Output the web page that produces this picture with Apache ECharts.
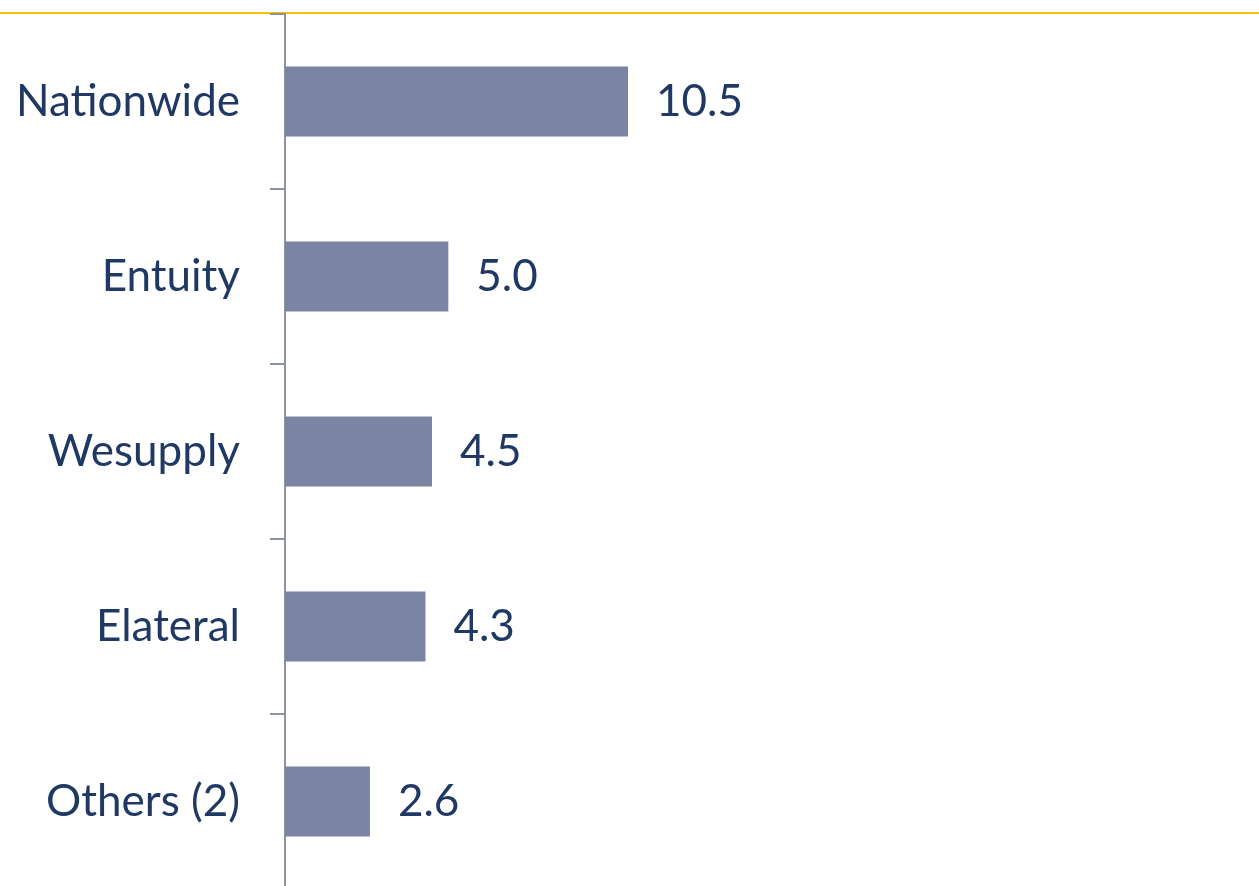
<!DOCTYPE html>
<html>
<head>
<meta charset="utf-8">
<script src="https://cdn.jsdelivr.net/npm/echarts@6/dist/echarts.min.js"></script>
<style>
  html, body { margin: 0; padding: 0; background: #fff; }
  #chart { width: 1259px; height: 886px; }
</style>
</head>
<body>
<div id="chart"></div>
<script>
  var categories = ['Nationwide', 'Entuity', 'Wesupply', 'Elateral', 'Others (2)']
  var values = [10.5, 5.0, 4.5, 4.3, 2.6]

  var textColor = '#1f3864'
  var font = 'Lato, "Noto Sans", sans-serif'

  var mychart = echarts.init(document.getElementById('chart'))
  var option = {
    animation: false,
    graphic: [
      {
        type: 'line',
        shape: { x1: 0, y1: 13, x2: 1259, y2: 13 },
        style: { stroke: '#ffc000', lineWidth: 2 }
      }
    ],
    grid: { left: 285, top: 14, width: 980, height: 875, outerBoundsMode: 'none' },
    xAxis: {
      type: 'value',
      min: 0,
      max: 30,
      show: false
    },
    yAxis: {
      type: 'category',
      data: categories,
      inverse: true,
      axisLine: { show: true, lineStyle: { color: '#8e939e', width: 2 } },
      axisTick: { show: true, length: 15, alignWithLabel: false, lineStyle: { color: '#8e939e', width: 2 } },
      axisLabel: { color: textColor, fontSize: 44, fontFamily: font, margin: 45 }
    },
    series: [
      {
        type: 'bar',
        data: values,
        barWidth: 70,
        itemStyle: { color: '#7b84a3' },
        label: {
          show: true,
          position: 'right',
          distance: 28,
          color: textColor,
          fontSize: 44,
          fontFamily: font,
          formatter: function (p) { return p.value.toFixed(1) }
        }
      }
    ]
  }
  option && mychart.setOption(option)
</script>
</body>
</html>
